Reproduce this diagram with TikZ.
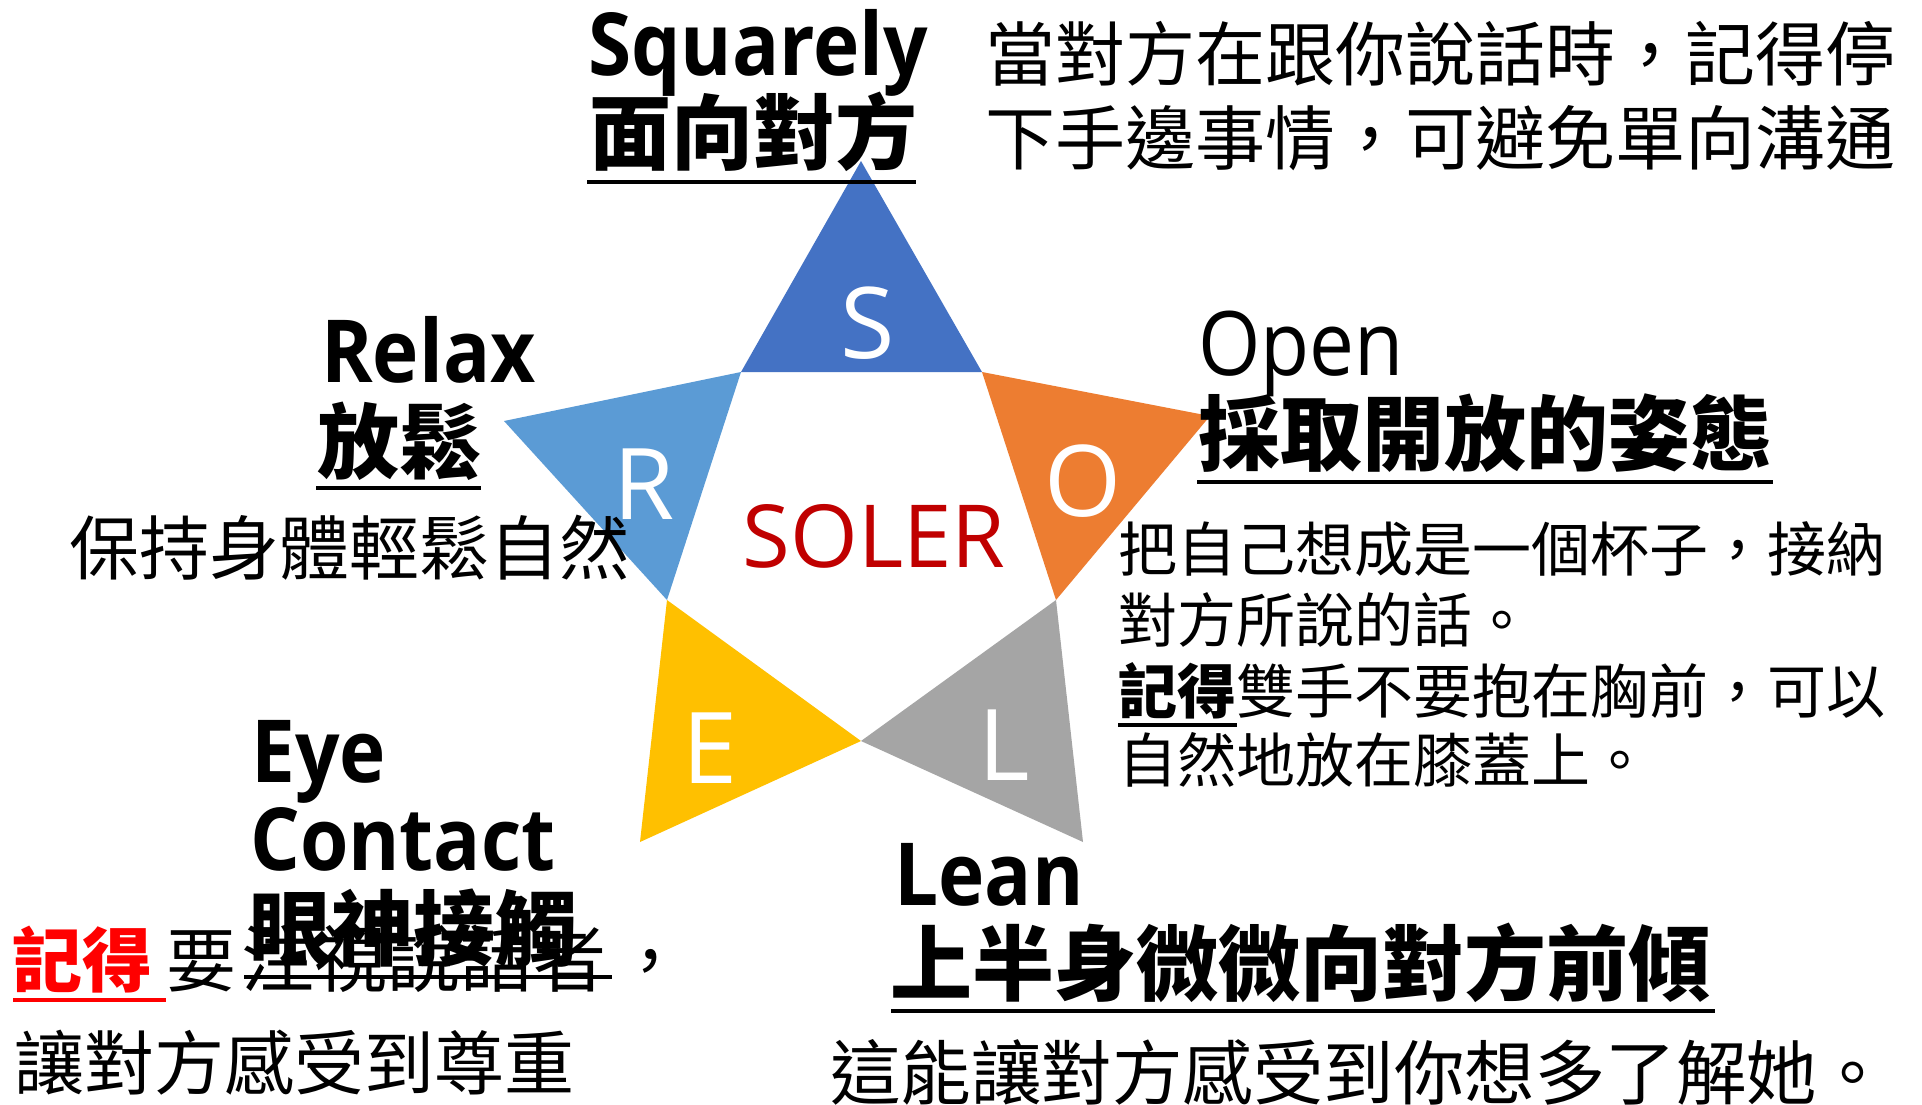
\documentclass[tikz,border=0pt]{standalone}
\usepackage{fontspec}
\setmainfont{Open Sans}
\newfontfamily\cjk{Noto Sans CJK TC}
\newfontfamily\lat{Open Sans}[FakeStretch=0.9]
\definecolor{cS}{HTML}{4472C4}
\definecolor{cO}{HTML}{ED7D31}
\definecolor{cL}{HTML}{A5A5A5}
\definecolor{cE}{HTML}{FFC000}
\definecolor{cR}{HTML}{5B9BD5}
\definecolor{soler}{HTML}{C00000}
\definecolor{redmark}{HTML}{FF0000}
\begin{document}
\begin{tikzpicture}[x=1pt,y=-1pt,
  hd/.style={anchor=base west, inner sep=0pt, font=\cjk\bfseries\fontsize{82}{90}\selectfont},
  en/.style={anchor=base west, inner sep=0pt, font=\lat\bfseries\fontsize{87}{90}\selectfont},
  enreg/.style={anchor=base west, inner sep=0pt, font=\lat\fontsize{89}{90}\selectfont},
  body/.style={anchor=base west, inner sep=0pt, font=\cjk\fontsize{70}{84}\selectfont},
  bodys/.style={anchor=base west, inner sep=0pt, font=\cjk\fontsize{59}{70}\selectfont},
  letter/.style={anchor=base, inner sep=0pt, text=white, font=\fontsize{99}{100}\selectfont},
  uline/.style={line width=4pt}]
\useasboundingbox[fill=white] (0,0) rectangle (1922,1104);
% star vertices
\coordinate (tS) at (861,161);
\coordinate (tO) at (1210,416);
\coordinate (tL) at (1083,842);
\coordinate (tE) at (640,842);
\coordinate (tR) at (504,421);
\coordinate (iA) at (741,372);
\coordinate (iB) at (982,372);
\coordinate (iD) at (1056,600);
\coordinate (iF) at (861,741);
\coordinate (iC) at (667,600);
\fill[cS] (tS) -- (iB) -- (iA) -- cycle;
\fill[cO] (iB) -- (tO) -- (iD) -- cycle;
\fill[cL] (iD) -- (tL) -- (iF) -- cycle;
\fill[cE] (iF) -- (tE) -- (iC) -- cycle;
\fill[cR] (iC) -- (tR) -- (iA) -- cycle;
% letters
\node[letter] (lS) at (868,358) {S};
\node[letter] (lO) at (1083,516) {O};
\node[letter] (lL) at (1004,780) {L};
\node[letter] (lE) at (710,783) {E};
\node[letter] (lR) at (644,519) {R};
\node[anchor=base, inner sep=0pt, text=soler, font=\fontsize{87}{90}\selectfont] (soler) at (874,567) {SOLER};
% Squarely
\node[en] (sqEn) at (588,75) {Squarely};
\node[hd] (sqZh) at (589,163) {面向對方};
\draw[uline] (587,182) -- (916,182);
\node[body] (sqD1) at (985,80) {當對方在跟你說話時，記得停};
\node[body] (sqD2) at (985,164) {下手邊事情，可避免單向溝通};
% Relax
\node[en] (rxEn) at (321,382) {Relax};
\node[hd] (rxZh) at (317,472) {放鬆};
\draw[uline] (316,488) -- (481,488);
\node[body] (rxD) at (69,574) {保持身體輕鬆自然};
% Open
\node[enreg] (opEn) at (1198,375) {Open};
\node[hd] (opZh) at (1198,464) {採取開放的姿態};
\draw[uline] (1197,482) -- (1773,482);
\node[bodys] (opD1) at (1118,571) {把自己想成是一個杯子，接納};
\node[bodys] (opD2) at (1118,642) {對方所說的話。};
\node[bodys] (opD3) at (1118,713) {{\bfseries 記得}雙手不要抱在胸前，可以};
\draw[uline] (1118,725) -- (1237,725);
\node[bodys] (opD4) at (1118,782) {自然地放在膝蓋上。};
% Eye Contact
\node[en] (eyEn1) at (251,782) {Eye};
\node[en] (eyEn2) at (250,870) {Contact};
\node[body, text=redmark, font=\cjk\bfseries\fontsize{70}{84}\selectfont] (eyR) at (12,986) {記得};
\draw[uline, redmark] (13,1000) -- (166,1000);
\node[body] (eyYao) at (166,986) {要};
\node[body, font=\cjk\fontsize{73}{84}\selectfont] (eyStk) at (241,986) {注視說話者};
\draw[line width=3.5pt] (244,977) -- (612,977);
\node[body] (eyCm) at (615,986) {，};
\node[hd] (eyZh) at (249,959) {眼神接觸};
\node[body] (eyD2) at (14,1089) {讓對方感受到尊重};
% Lean
\node[en] (lnEn) at (894,905) {Lean};
\node[hd] (lnZh) at (890,994) {上半身微微向對方前傾};
\draw[uline] (891,1011) -- (1715,1011);
\node[body, font=\cjk\fontsize{70.5}{84}\selectfont] (lnD) at (830,1099) {這能讓對方感受到你想多了解她。};
\end{tikzpicture}
\end{document}
